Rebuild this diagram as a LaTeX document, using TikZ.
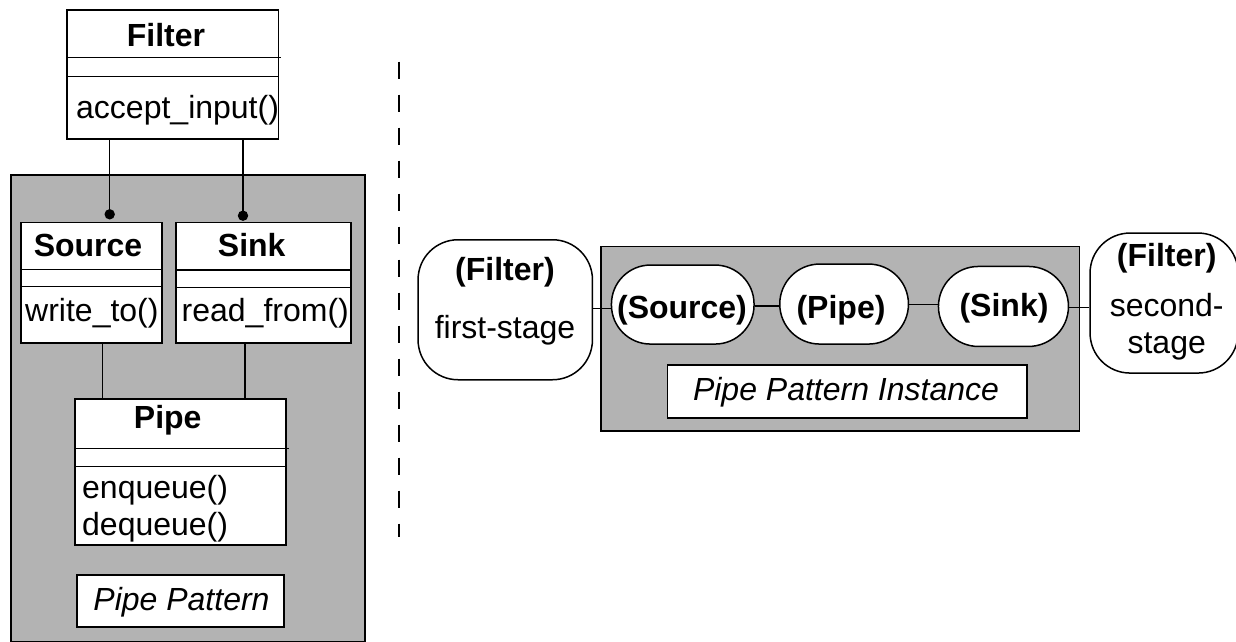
\documentclass[tikz,border=0pt]{standalone}
\usepackage{fontspec}
\setmainfont{Liberation Sans}
\usetikzlibrary{calc}
\definecolor{panelgray}{RGB}{179,179,179}
\newcommand\diagfont{\fontsize{32}{38}\selectfont}
\begin{document}
\begin{tikzpicture}[x=1pt,y=-1pt,
  box/.style={draw, line width=1.5pt, fill=white, inner sep=0pt, anchor=north west},
  panel/.style={draw, line width=1.5pt, fill=panelgray, inner sep=0pt, anchor=north west},
  txt/.style={font=\diagfont, inner sep=0pt, anchor=base},
  txtl/.style={font=\diagfont, inner sep=0pt, anchor=base west},
  bold/.style={txt, font=\diagfont\bfseries},
  ital/.style={txt, font=\diagfont\itshape},
  link/.style={line width=1.5pt},
  sep/.style={line width=1.5pt}]
\useasboundingbox (0,0) rectangle (1236,642);

% ---------- left: class diagram ----------
\node[panel, minimum width=354pt, minimum height=466.7pt] (grayL) at (10,174.3) {};
\node[box, minimum width=211.4pt, minimum height=129pt] (filter) at (66.3,9.3) {};
\draw[sep] (filter.west |- 0,57.3) -- (280.5,57.3);
\draw[sep] (filter.west |- 0,76.7) -- (279,76.7);
\node[bold] (filtert) at (166,46.7) {Filter};
\node[txtl] (accept) at (76,118) {accept\_input()};

\node[box, minimum width=140.7pt, minimum height=120.6pt] (src) at (20.3,221.7) {};
\draw[sep] (src.west |- 0,269.3) -- (src.east |- 0,269.3);
\draw[sep] (src.west |- 0,286.7) -- (src.east |- 0,286.7);
\node[bold] (srct) at (88,256.7) {Source};
\node[txtl] (writeto) at (25,321.7) {write\_to()};

\node[box, minimum width=175pt, minimum height=120.6pt] (sink) at (175,221.7) {};
\draw[sep] (sink.west |- 0,270) -- (sink.east |- 0,270);
\draw[sep] (sink.west |- 0,287.3) -- (sink.east |- 0,287.3);
\node[bold] (sinkt) at (251.7,256.7) {Sink};
\node[txtl] (readfrom) at (181.5,321.7) {read\_from()};

\coordinate (dotA) at (109.7,214.3);
\coordinate (dotB) at (243,215.7);
\draw[link] (filter.south -| dotA) -- (dotA);
\draw[link] (filter.south -| dotB) -- (dotB);
\fill (dotA) circle (5.2pt);
\fill (dotB) circle (5.2pt);

\node[box, minimum width=211.3pt, minimum height=146pt] (pipe) at (74,398.3) {};
\draw[sep] (pipe.west |- 0,448.3) -- (288.7,448.3);
\draw[sep] (pipe.west |- 0,466.3) -- (286.7,466.3);
\node[bold] (pipet) at (167.7,428) {Pipe};
\node[txtl] (enq) at (82,498) {enqueue()};
\node[txtl] (deq) at (82,535) {dequeue()};

\draw[link] (src.south -| 102.7,0) -- (pipe.north -| 102.7,0);
\draw[link] (sink.south -| 245,0) -- (pipe.north -| 245,0);

\node[box, minimum width=207pt, minimum height=52pt] (pp) at (76.3,574) {};
\node[ital] (ppt) at (181.5,610) {Pipe Pattern};

% ---------- divider ----------
\coordinate (dtop) at (398.7,61.7);
\coordinate (dbot) at (398.7,536.7);
\draw[line width=1.6pt, dash pattern=on 17pt off 16pt] (dtop) -- (dbot);

% ---------- right: instance diagram ----------
\node[panel, minimum width=478.4pt, minimum height=184.3pt] (grayR) at (600.3,245.7) {};
\node[box, rounded corners=40pt, minimum width=174.4pt, minimum height=140pt] (fs) at (417.3,239) {};
\node[bold] (fst1) at (505,280) {(Filter)};
\node[txt] (fst2) at (505,338) {first-stage};

\node[box, rounded corners=39pt, minimum width=142.6pt, minimum height=79pt] (isrc) at (610.7,264.3) {};
\node[bold] (isrct) at (682,318) {(Source)};
\node[box, rounded corners=40pt, minimum width=128.7pt, minimum height=80pt] (ipipe) at (779,263.3) {};
\node[bold] (ipipet) at (841,318) {(Pipe)};
\node[box, rounded corners=40pt, minimum width=130pt, minimum height=80pt] (isink) at (937.7,265.7) {};
\node[bold] (isinkt) at (1004,316) {(Sink)};

\node[box, rounded corners=40pt, minimum width=148pt, minimum height=140pt] (ss) at (1089.3,232.3) {};
\node[bold] (sst1) at (1166.7,266.7) {(Filter)};
\node[txt] (sst2) at (1166.7,316.7) {second-};
\node[txt] (sst3) at (1166.7,353.3) {stage};

\draw[link] (fs.east |- 0,308.3) -- (isrc.west |- 0,308.3);
\draw[link] (isrc.east |- 0,306) -- (ipipe.west |- 0,306);
\draw[link] (ipipe.east |- 0,304.3) -- (isink.west |- 0,304.3);
\draw[link] (isink.east |- 0,307.3) -- (ss.west |- 0,307.3);

\node[box, minimum width=359.6pt, minimum height=53pt] (ppi) at (666.7,364.3) {};
\node[ital] (ppit) at (846,400) {Pipe Pattern Instance};
\end{tikzpicture}
\end{document}
